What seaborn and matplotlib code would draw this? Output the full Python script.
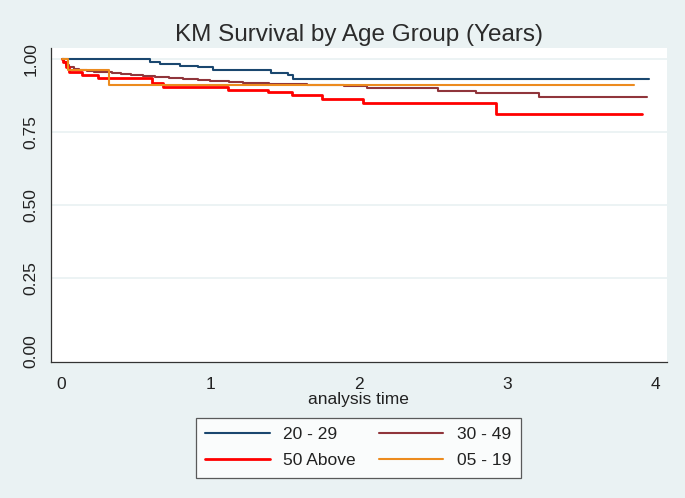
import matplotlib
matplotlib.use("Agg")
import matplotlib.pyplot as plt
import seaborn as sns
import pandas as pd

# KM step points (time in years, survival), last point = end of follow-up
t_20_29 = [0, 0.595, 0.662, 0.797, 0.92, 1.02, 1.41, 1.527, 1.56, 3.958]
s_20_29 = [1.0, 0.990, 0.984, 0.978, 0.972, 0.964, 0.954, 0.946, 0.9325, 0.9325]

t_30_49 = [0, 0.015, 0.03, 0.05, 0.08, 0.12, 0.17, 0.22, 0.28, 0.34, 0.40, 0.47,
           0.55, 0.63, 0.72, 0.82, 0.92, 1.0, 1.07, 1.13, 1.22, 1.40, 1.65, 1.90,
           2.06, 2.538, 2.79, 3.214, 3.944]
s_30_49 = [1.0, 0.99, 0.98, 0.972, 0.968, 0.965, 0.961, 0.958, 0.955, 0.952, 0.949, 0.946,
           0.943, 0.940, 0.936, 0.933, 0.930, 0.927, 0.924, 0.921, 0.919, 0.916, 0.912, 0.907,
           0.900, 0.892, 0.884, 0.870, 0.870]

t_50_up = [0, 0.012, 0.03, 0.05, 0.135, 0.247, 0.606, 0.685, 1.123, 1.388, 1.55,
           1.752, 2.028, 2.929, 3.908]
s_50_up = [1.0, 0.99, 0.975, 0.955, 0.945, 0.935, 0.918, 0.904, 0.896, 0.887, 0.876,
           0.863, 0.850, 0.8125, 0.8125]

t_05_19 = [0, 0.045, 0.321, 3.854]
s_05_19 = [1.0, 0.962, 0.913, 0.913]

groups = ["20 - 29", "30 - 49", "50 Above", "05 - 19"]
colors = {"20 - 29": "#1A476F", "30 - 49": "#90353B",
          "50 Above": "#FF0000", "05 - 19": "#EC8B1E"}
widths = {"20 - 29": 1.5, "30 - 49": 1.5, "50 Above": 2.0, "05 - 19": 1.5}

frames = []
for g, t, s in zip(groups, [t_20_29, t_30_49, t_50_up, t_05_19],
                   [s_20_29, s_30_49, s_50_up, s_05_19]):
    frames.append(pd.DataFrame({"time": t, "surv": s, "group": g}))
df = pd.concat(frames, ignore_index=True)

sns.set_theme(style="white")
plt.rcParams["font.family"] = ["Liberation Sans", "DejaVu Sans"]

bg = "#EAF2F3"
fig = plt.figure(figsize=(6.85, 4.98), dpi=100, facecolor=bg)
ax = fig.add_axes([0.074, 0.273, 0.8997, 0.6316])
ax.set_facecolor("white")

handles = {}
for g in groups:
    sub = df[df["group"] == g]
    sns.lineplot(data=sub, x="time", y="surv", ax=ax, color=colors[g],
                 linewidth=widths[g], drawstyle="steps-post", legend=False,
                 estimator=None)
    handles[g] = ax.lines[-1]

ax.set_xlim(-0.074, 4.079)
ax.set_ylim(-0.0377, 1.0405)
ax.set_xticks([0, 1, 2, 3, 4])
ax.set_yticks([0, 0.25, 0.5, 0.75, 1.0])
ax.set_yticklabels(["0.00", "0.25", "0.50", "0.75", "1.00"], rotation=90, va="center")
ax.tick_params(axis="both", direction="out", length=6, width=0.9, color="#333333",
               labelsize=12.5, labelcolor="#222222", pad=3)
ax.tick_params(axis="x", pad=5)

ax.yaxis.grid(True, color=bg, linewidth=1.3)
ax.get_ygridlines()[0].set_visible(False)
ax.set_axisbelow(True)

for side in ["top", "right"]:
    ax.spines[side].set_visible(False)
for side in ["left", "bottom"]:
    ax.spines[side].set_color("#333333")
    ax.spines[side].set_linewidth(0.9)

ax.set_xlabel("analysis time", fontsize=12.5, color="#222222", labelpad=0)
ax.set_ylabel("")
ax.set_title("KM Survival by Age Group (Years)", fontsize=17.5, color="#2b2b2b", pad=5)

order = ["20 - 29", "50 Above", "30 - 49", "05 - 19"]
leg = fig.legend([handles[g] for g in order], order, ncol=2,
                 loc="center", bbox_to_anchor=(0.523, 0.101),
                 fontsize=12.5, frameon=True, fancybox=False, handlelength=3.7,
                 columnspacing=1.3, handletextpad=0.8, borderpad=0.55,
                 labelspacing=0.6)
leg.get_frame().set_edgecolor("#333333")
leg.get_frame().set_linewidth(0.9)
leg.get_frame().set_facecolor("white")
for txt in leg.get_texts():
    txt.set_color("#222222")

fig.savefig("out.png", dpi=100, facecolor=bg)
